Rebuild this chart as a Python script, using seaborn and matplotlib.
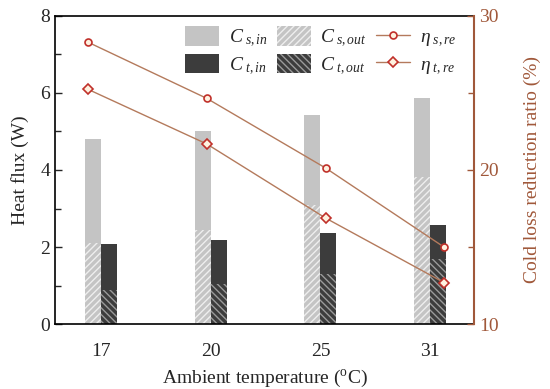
import pandas as pd
import numpy as np
import matplotlib
matplotlib.use('Agg')
import matplotlib.pyplot as plt
import seaborn as sns
from matplotlib.ticker import MultipleLocator
from matplotlib.patches import Patch
from matplotlib.lines import Line2D

# data
temps = ['17', '20', '25', '31']
cs_in = [4.80, 5.01, 5.42, 5.86]
cs_out = [2.10, 2.44, 3.09, 3.83]
ct_in = [2.09, 2.18, 2.36, 2.57]
ct_out = [0.89, 1.04, 1.30, 1.68]
eta_s = [28.3, 24.65, 20.13, 14.98]
eta_t = [25.24, 21.69, 16.88, 12.68]

sns.set_style('ticks')
plt.rcParams['font.family'] = ['Liberation Serif', 'DejaVu Serif']
plt.rcParams['mathtext.fontset'] = 'custom'
plt.rcParams['mathtext.rm'] = 'Liberation Serif'
plt.rcParams['mathtext.it'] = 'Liberation Serif:italic'
plt.rcParams['hatch.linewidth'] = 1.0

brown = '#a0583a'
line_col = '#b47a5c'
mk_edge = '#c0302a'
mk_face = '#fff2e0'
light = '#c4c4c4'
dark = '#3c3c3c'

fig = plt.figure(figsize=(5.5, 3.89), dpi=100)
ax = fig.add_axes([0.1, 0.167, 0.762, 0.792])

df_in = pd.DataFrame({'temp': temps * 2, 'kind': ['s'] * 4 + ['t'] * 4, 'val': cs_in + ct_in})
df_out = pd.DataFrame({'temp': temps * 2, 'kind': ['s'] * 4 + ['t'] * 4, 'val': cs_out + ct_out})

sns.barplot(data=df_in, x='temp', y='val', hue='kind', palette=[light, dark], width=0.29,
            saturation=1, legend=False, ax=ax, linewidth=0)
n_in = len(ax.patches)
sns.barplot(data=df_out, x='temp', y='val', hue='kind', palette=[light, dark], width=0.29,
            saturation=1, legend=False, ax=ax, linewidth=0)
out_patches = ax.patches[n_in:]
for i, p in enumerate(out_patches):
    if i < 4:
        p.set_hatch('/////')
        p.set_edgecolor('#eeeeee')
    else:
        p.set_hatch('\\\\\\\\\\')
        p.set_edgecolor('#9a9a9a')
    p.set_linewidth(0)

ax.set_xlim(-0.417, 3.40)
ax.set_ylim(0, 8)
ax.yaxis.set_major_locator(MultipleLocator(2))
ax.yaxis.set_minor_locator(MultipleLocator(1))
ax.tick_params(axis='y', which='both', direction='in', labelsize=14, width=1)
ax.tick_params(axis='y', which='major', length=5)
ax.tick_params(axis='y', which='minor', length=4)
ax.tick_params(axis='x', length=0, labelsize=14, pad=14)
ax.set_xlabel(r'Ambient temperature ($^{\mathrm{o}}$C)', fontsize=14, labelpad=5)
ax.set_ylabel('Heat flux (W)', fontsize=14, labelpad=8)
for s in ax.spines.values():
    s.set_linewidth(1.2)
    s.set_color('black')
ax.spines['right'].set_visible(False)

# line axes with its own categorical x
ax2 = fig.add_axes(ax.get_position(), facecolor='none')
sns.lineplot(x=temps, y=eta_s, sort=False, color=line_col, lw=1, marker='o', ms=5,
             mec=mk_edge, mfc=mk_face, mew=1.2, ax=ax2)
sns.lineplot(x=temps, y=eta_t, sort=False, color=line_col, lw=1, marker='D', ms=5,
             mec=mk_edge, mfc=mk_face, mew=1.2, ax=ax2)
ax2.set_xlim(-0.277, 3.25)
ax2.set_ylim(10, 30)
ax2.xaxis.set_visible(False)
ax2.yaxis.tick_right()
ax2.yaxis.set_label_position('right')
ax2.yaxis.set_major_locator(MultipleLocator(10))
ax2.yaxis.set_minor_locator(MultipleLocator(5))
ax2.tick_params(axis='y', which='both', direction='in', colors=brown, labelsize=14, width=1)
ax2.tick_params(axis='y', which='major', length=5)
ax2.tick_params(axis='y', which='minor', length=4)
ax2.set_ylabel('Cold loss reduction ratio (%)', fontsize=14, color=brown, labelpad=18)
for k in ['top', 'left', 'bottom']:
    ax2.spines[k].set_visible(False)
ax2.spines['right'].set_color(brown)
ax2.spines['right'].set_linewidth(1.5)

handles = [
    Patch(facecolor=light, edgecolor='none'),
    Patch(facecolor=dark, edgecolor='none'),
    Patch(facecolor=light, edgecolor='#eeeeee', hatch='/////', linewidth=0),
    Patch(facecolor=dark, edgecolor='#9a9a9a', hatch='\\\\\\\\\\', linewidth=0),
    Line2D([], [], color=line_col, lw=1, marker='o', ms=5, mec=mk_edge, mfc=mk_face, mew=1.2),
    Line2D([], [], color=line_col, lw=1, marker='D', ms=5, mec=mk_edge, mfc=mk_face, mew=1.2),
]
labels = [r'$C_{\ s,in}$', r'$C_{\ t,in}$', r'$C_{\ s,out}$', r'$C_{\ t,out}$',
          r'$\eta_{\ s,re}$', r'$\eta_{\ t,re}$']
ax2.legend(handles, labels, ncol=3, loc='upper right', frameon=False, fontsize=14,
           handlelength=1.75, handleheight=1.15, columnspacing=0.45, handletextpad=0.5,
           labelspacing=0.25, bbox_to_anchor=(0.99, 1.01), borderaxespad=0.3)

fig.savefig('out.png', dpi=100)
